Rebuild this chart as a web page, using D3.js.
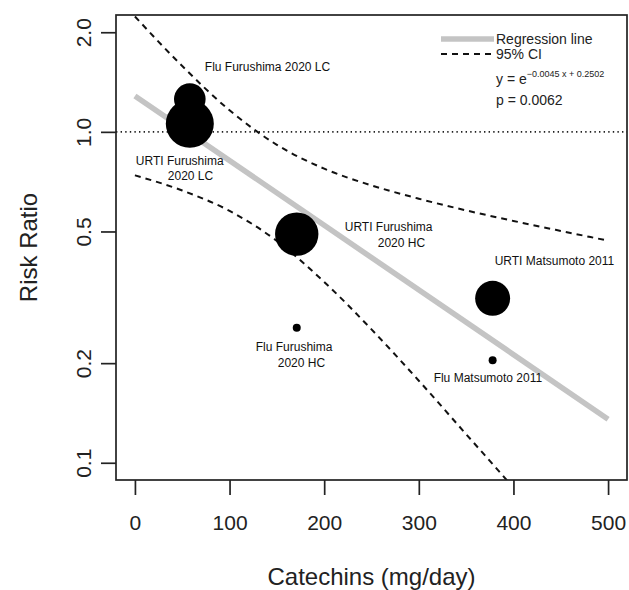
<!DOCTYPE html>
<html>
<head>
<meta charset="utf-8">
<script src="https://cdn.jsdelivr.net/npm/d3@7"></script>
<style>
  html, body { margin: 0; padding: 0; background: #fff; }
  svg { display: block; font-family: "Liberation Sans", Arial, sans-serif; }
</style>
</head>
<body>
<svg id="chart" width="629" height="590"></svg>
<script>
// ---- data ----
const studyLabels = ["Flu Furushima 2020 LC", "URTI Furushima 2020 LC", "URTI Furushima 2020 HC",
                     "Flu Furushima 2020 HC", "URTI Matsumoto 2011", "Flu Matsumoto 2011"];
const catechins = [58, 58, 171, 171, 378, 378];
const riskRatio = [1.256, 1.058, 0.491, 0.256, 0.314, 0.204];
const studyWeight = [250, 576, 471, 16, 306, 16];

const regX = [0, 500];
const regY = [1.284, 0.1354];

const ciX     = [0, 50, 100, 150, 200, 250, 300, 350, 400, 450, 500];
const ciUpper = [2.232, 1.581, 1.162, 0.914, 0.774, 0.689, 0.628, 0.579, 0.538, 0.502, 0.469];
const ciLower = [0.739, 0.665, 0.577, 0.468, 0.352, 0.253, 0.177, 0.122, 0.084, 0.057, 0.039];

const xTicks = [0, 100, 200, 300, 400, 500];
const yTicks = [0.1, 0.2, 0.5, 1.0, 2.0];
const yTickLabels = ["0.1", "0.2", "0.5", "1.0", "2.0"];

// ---- layout ----
const pLeft = 116, pRight = 627, pTop = 15, pBottom = 480;
const svg = d3.select("#chart");

const x = d3.scaleLinear().domain([-20, 520]).range([pLeft, pRight]);
const y = d3.scaleLog().domain([0.0887, 2.255]).range([pBottom, pTop]);
const r = d3.scaleSqrt().domain([0, 576]).range([0, 24]);

svg.append("defs").append("clipPath").attr("id", "plotclip")
  .append("rect").attr("x", pLeft).attr("y", pTop).attr("width", pRight - pLeft).attr("height", pBottom - pTop);

const plot = svg.append("g").attr("clip-path", "url(#plotclip)");

// reference line at RR = 1
plot.append("line")
  .attr("x1", pLeft).attr("x2", pRight).attr("y1", y(1)).attr("y2", y(1))
  .attr("stroke", "#222").attr("stroke-width", 1.6).attr("stroke-dasharray", "1.4,3.2");

// regression line
const line = d3.line().x(d => x(d[0])).y(d => y(d[1]));
plot.append("path")
  .datum(regX.map((v, i) => [v, regY[i]]))
  .attr("d", line).attr("fill", "none").attr("stroke", "#c4c4c4").attr("stroke-width", 5.5);

// CI curves
const curve = d3.line().x(d => x(d[0])).y(d => y(d[1])).curve(d3.curveMonotoneX);
[ciUpper, ciLower].forEach(arr => {
  plot.append("path")
    .datum(ciX.map((v, i) => [v, arr[i]]))
    .attr("d", curve).attr("fill", "none").attr("stroke", "#111")
    .attr("stroke-width", 2).attr("stroke-dasharray", "6,5");
});

// points
plot.selectAll("circle.pt")
  .data(catechins.map((v, i) => ({x: v, y: riskRatio[i], w: studyWeight[i]})))
  .enter().append("circle")
  .attr("class", "pt")
  .attr("cx", d => x(d.x)).attr("cy", d => y(d.y)).attr("r", d => r(d.w))
  .attr("fill", "#000");

// point labels (pixel offsets from each point)
const labelLayout = [
  {i: 0, lines: ["Flu Furushima 2020 LC"], dx: [15], dy: [-32]},
  {i: 1, lines: ["URTI Furushima", "2020 LC"], dx: [-54, -22], dy: [37, 52]},
  {i: 2, lines: ["URTI Furushima", "2020 HC"], dx: [48, 81], dy: [-7, 9]},
  {i: 3, lines: ["Flu Furushima", "2020 HC"], dx: [-41, -19], dy: [19, 35]},
  {i: 4, lines: ["URTI Matsumoto 2011"], dx: [2], dy: [-37]},
  {i: 5, lines: ["Flu Matsumoto 2011"], dx: [-59], dy: [18]}
];
const labG = svg.append("g").attr("font-size", 12).attr("fill", "#111");
labelLayout.forEach(L => {
  const px = x(catechins[L.i]), py = y(riskRatio[L.i]);
  L.lines.forEach((t, k) => {
    labG.append("text").attr("x", px + L.dx[k]).attr("y", py + L.dy[k])
      .attr("dominant-baseline", "central").text(t);
  });
});

// box
svg.append("rect").attr("x", pLeft).attr("y", pTop).attr("width", pRight - pLeft).attr("height", pBottom - pTop)
  .attr("fill", "none").attr("stroke", "#222").attr("stroke-width", 1.7);

// x axis
const xAxis = svg.append("g").attr("transform", `translate(0,${pBottom})`)
  .call(d3.axisBottom(x).tickValues(xTicks).tickSize(15).tickSizeOuter(0).tickPadding(20)
    .tickFormat(d3.format("d")));
xAxis.select(".domain").remove();
xAxis.selectAll("line").attr("stroke", "#222").attr("stroke-width", 1.7);
xAxis.selectAll("text").attr("font-size", 21).attr("fill", "#222").attr("font-family", "Liberation Sans, Arial, sans-serif");

// y axis
const yAxis = svg.append("g").attr("transform", `translate(${pLeft},0)`)
  .call(d3.axisLeft(y).tickValues(yTicks).tickSize(15).tickSizeOuter(0)
    .tickFormat((d, i) => yTickLabels[i]));
yAxis.select(".domain").remove();
yAxis.selectAll("line").attr("stroke", "#222").attr("stroke-width", 1.7);
yAxis.selectAll("text")
  .attr("font-size", 21).attr("fill", "#222").attr("font-family", "Liberation Sans, Arial, sans-serif")
  .attr("x", null).attr("dy", null)
  .attr("text-anchor", "middle")
  .attr("transform", "translate(-25,0) rotate(-90)")
  .attr("y", 0);

// axis titles
svg.append("text").attr("x", (pLeft + pRight) / 2).attr("y", 585)
  .attr("text-anchor", "middle").attr("font-size", 24).attr("fill", "#222")
  .text("Catechins (mg/day)");
svg.append("text").attr("transform", `translate(37,${(pTop + pBottom) / 2}) rotate(-90)`)
  .attr("text-anchor", "middle").attr("font-size", 24).attr("fill", "#222")
  .text("Risk Ratio");

// legend
const lg = svg.append("g");
lg.append("line").attr("x1", 441).attr("x2", 494).attr("y1", 39).attr("y2", 39)
  .attr("stroke", "#c4c4c4").attr("stroke-width", 5.5);
lg.append("line").attr("x1", 441).attr("x2", 494).attr("y1", 54).attr("y2", 54)
  .attr("stroke", "#111").attr("stroke-width", 2).attr("stroke-dasharray", "6,5");
lg.append("text").attr("x", 496).attr("y", 39).attr("dominant-baseline", "central")
  .attr("font-size", 14).attr("fill", "#222").text("Regression line");
lg.append("text").attr("x", 496).attr("y", 54).attr("dominant-baseline", "central")
  .attr("font-size", 14).attr("fill", "#222").text("95% CI");
const eq = lg.append("text").attr("x", 496).attr("y", 84).attr("font-size", 14).attr("fill", "#222");
eq.append("tspan").text("y = e");
eq.append("tspan").attr("dy", -7).attr("font-size", 9).text("\u22120.0045 x + 0.2502");
lg.append("text").attr("x", 496).attr("y", 105).attr("font-size", 14).attr("fill", "#222").text("p = 0.0062");
</script>
</body>
</html>
